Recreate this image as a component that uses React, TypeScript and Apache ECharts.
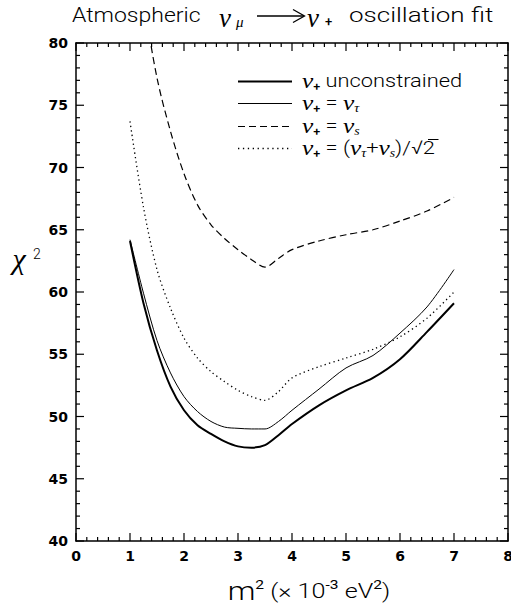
import React, { useEffect, useRef } from "react";
import * as echarts from "echarts";

// m^2 values (x 10^-3 eV^2)
const M2 = [1.0, 1.25, 1.5, 1.75, 2.0, 2.25, 2.5, 2.75, 3.0, 3.25, 3.5, 3.75, 4.0, 4.5, 5.0, 5.5, 6.0, 6.5, 7.0];
// chi^2 curves
const CHI2_UNCONSTRAINED = [64.1, 59.1, 55.3, 52.4, 50.5, 49.3, 48.6, 48.0, 47.6, 47.5, 47.7, 48.5, 49.4, 50.9, 52.1, 53.1, 54.6, 56.8, 59.1];
const CHI2_TAU = [64.2, 59.9, 56.1, 53.5, 51.6, 50.4, 49.6, 49.15, 49.05, 49.0, 49.0, 49.6, 50.5, 52.2, 53.9, 54.9, 56.7, 58.8, 61.8];
const CHI2_STERILE = [92.0, 83.6, 77.2, 72.9, 69.5, 67.0, 65.4, 64.3, 63.4, 62.6, 62.0, 62.7, 63.4, 64.1, 64.6, 65.0, 65.7, 66.5, 67.6];
const CHI2_MIXED = [73.7, 66.8, 61.8, 58.7, 56.3, 54.7, 53.6, 52.8, 52.1, 51.6, 51.3, 52.0, 53.1, 54.0, 54.7, 55.4, 56.4, 57.9, 60.0];

const X_MIN = 0, X_MAX = 8, X_STEP = 1, X_MINOR = 5;
const Y_MIN = 40, Y_MAX = 80, Y_STEP = 5, Y_MINOR = 5;

const FF = "Roboto";
const GF = "Liberation Serif";

const W = 511, H = 605;

function T(x: number, y: number, text: string, o: any = {}) {
  return {
    type: "text",
    x,
    y,
    scaleX: o.sx ?? 1,
    silent: true,
    style: {
      text,
      fill: "#000",
      fontSize: o.fs ?? 19,
      fontFamily: o.ff ?? FF,
      fontStyle: o.it ? "italic" : "normal",
      fontWeight: o.fw ?? 300,
      align: o.align ?? "left",
      textAlign: o.align ?? "left",
      verticalAlign: "middle",
      textVerticalAlign: "middle",
      rich: o.rich,
    },
  };
}

const richLegend = {
  nu: { fontFamily: GF, fontStyle: "italic", fontSize: 22, fill: "#000" },
  sub: { fontFamily: GF, fontStyle: "italic", fontSize: 12, fill: "#000", verticalAlign: "bottom" },
  subp: { fontFamily: FF, fontWeight: 500, fontSize: 11, fill: "#000", verticalAlign: "bottom" },
};

// tick table: [x, y, isMajor, kind] kind 0 = tick on the x axes, 1 = tick on the y axes
function buildTicks(): number[][] {
  const out: number[][] = [];
  const nx = Math.round((X_MAX - X_MIN) / X_STEP) * X_MINOR;
  for (let i = 0; i <= nx; i++) out.push([X_MIN + (i * X_STEP) / X_MINOR, Y_MIN, i % X_MINOR === 0 ? 1 : 0, 0]);
  const ny = Math.round((Y_MAX - Y_MIN) / Y_STEP) * Y_MINOR;
  for (let i = 0; i <= ny; i++) out.push([X_MIN, Y_MIN + (i * Y_STEP) / Y_MINOR, i % Y_MINOR === 0 ? 1 : 0, 1]);
  return out;
}

export default function App() {
  const ref = useRef<HTMLDivElement>(null);
  useEffect(() => {
    const chart = echarts.init(ref.current!, null, { renderer: "svg" });
    const frameAxis = (extra: any): any => ({
      type: "value",
      axisLine: { show: true, onZero: false, lineStyle: { color: "#000", width: 1.5 } },
      axisTick: { show: false },
      minorTick: { show: false },
      splitLine: { show: false },
      minorSplitLine: { show: false },
      ...extra,
    });
    const labelStyle = {
      color: "#000",
      fontFamily: "DejaVu Sans",
      fontWeight: "bold",
      fontSize: 14,
    };
    const xr = { min: X_MIN, max: X_MAX, interval: X_STEP };
    const yr = { min: Y_MIN, max: Y_MAX, interval: Y_STEP };
    const mk = (vals: number[]) => M2.map((x, i) => [x, vals[i]]);
    const lineSeries = (name: string, vals: number[], lineStyle: any) => ({
      name,
      type: "line",
      data: mk(vals),
      showSymbol: false,
      symbol: "none",
      smooth: 0.3,
      clip: true,
      lineStyle: { color: "#000", ...lineStyle },
      xAxisIndex: 0,
      yAxisIndex: 0,
      z: 3,
    });

    // inward ticks drawn as thin filled rectangles through the axes' scales
    const tickSeries = {
      type: "custom",
      name: "ticks",
      xAxisIndex: 0,
      yAxisIndex: 0,
      silent: true,
      clip: false,
      z: 6,
      data: buildTicks(),
      renderItem: (_p: any, api: any) => {
        const v0 = api.value(0);
        const v1 = api.value(1);
        const len = api.value(2) ? 8 : 4;
        const kind = api.value(3);
        const st = { fill: "#000", stroke: null };
        const th = 1.2;
        if (kind === 0) {
          const b = api.coord([v0, Y_MIN]);
          const t = api.coord([v0, Y_MAX]);
          return {
            type: "group",
            children: [
              { type: "rect", shape: { x: b[0] - th / 2, y: b[1] - len, width: th, height: len }, style: st },
              { type: "rect", shape: { x: t[0] - th / 2, y: t[1], width: th, height: len }, style: st },
            ],
          };
        }
        const l = api.coord([X_MIN, v1]);
        const r = api.coord([X_MAX, v1]);
        return {
          type: "group",
          children: [
            { type: "rect", shape: { x: l[0], y: l[1] - th / 2, width: len, height: th }, style: st },
            { type: "rect", shape: { x: r[0] - len, y: r[1] - th / 2, width: len, height: th }, style: st },
          ],
        };
      },
    };

    const legendY = [81.5, 103.5, 126.5, 148.5];
    const option: any = {
      animation: false,
      backgroundColor: "#fff",
      grid: { left: 76, right: 3, top: 43, bottom: 64, containLabel: false, outerBoundsMode: "none" },
      xAxis: [
        frameAxis({ position: "bottom", ...xr, axisLabel: { show: true, margin: 8, ...labelStyle } }),
        frameAxis({ position: "top", ...xr, axisLabel: { show: false } }),
      ],
      yAxis: [
        frameAxis({ position: "left", ...yr, axisLabel: { show: true, margin: 8, ...labelStyle } }),
        frameAxis({ position: "right", ...yr, axisLabel: { show: false } }),
      ],
      series: [
        lineSeries("unconstrained", CHI2_UNCONSTRAINED, { width: 2 }),
        lineSeries("tau", CHI2_TAU, { width: 1 }),
        lineSeries("sterile", CHI2_STERILE, { width: 1.2, type: [7, 4] }),
        lineSeries("mixed", CHI2_MIXED, { width: 1.3, type: [1.3, 3.2] }),
        tickSeries,
      ],
      graphic: [
        // title
        T(72, 15, "Atmospheric", { fs: 20, sx: 1.15 }),
        T(219, 18, "ν", { fs: 27, it: true, ff: GF }),
        T(236, 22, "μ", { fs: 15, it: true, ff: GF }),
        { type: "line", silent: true, shape: { x1: 257, y1: 16, x2: 304, y2: 16 }, style: { stroke: "#000", lineWidth: 1.3 } },
        { type: "polyline", silent: true, shape: { points: [[293, 9.5], [304.5, 16], [293, 22.5]] }, style: { stroke: "#000", lineWidth: 1.3, fill: null } },
        T(307, 18, "ν", { fs: 27, it: true, ff: GF }),
        T(325, 21.5, "+", { fs: 13, fw: 500 }),
        T(349, 15, "oscillation fit", { fs: 20, sx: 1.3 }),
        // y axis title
        T(19, 258, "χ", { fs: 30, it: true, ff: GF, align: "center" }),
        T(33, 254, "2", { fs: 14 }),
        // x axis title
        T(309, 591, "{m|m}{sup|2} (× 10{sup|-3} eV{sup|2})", {
          fs: 21,
          sx: 1.2,
          align: "center",
          rich: {
            m: { fontFamily: FF, fontWeight: 300, fontSize: 26, fill: "#000" },
            sup: { fontFamily: FF, fontWeight: 400, fontSize: 13, fill: "#000", verticalAlign: "top" },
          },
        }),
        // legend
        { type: "line", silent: true, shape: { x1: 238, y1: legendY[0], x2: 292, y2: legendY[0] }, style: { stroke: "#000", lineWidth: 2 } },
        { type: "line", silent: true, shape: { x1: 238, y1: legendY[1], x2: 292, y2: legendY[1] }, style: { stroke: "#000", lineWidth: 1 } },
        { type: "line", silent: true, shape: { x1: 238, y1: legendY[2], x2: 292, y2: legendY[2] }, style: { stroke: "#000", lineWidth: 1.2, lineDash: [7, 4] } },
        { type: "line", silent: true, shape: { x1: 238, y1: legendY[3], x2: 292, y2: legendY[3] }, style: { stroke: "#000", lineWidth: 1.3, lineDash: [1.3, 3.6] } },
        T(302, legendY[0] - 1, "{nu|ν}{subp|+} unconstrained", { fs: 19, sx: 1.15, rich: richLegend }),
        T(302, legendY[1] - 1, "{nu|ν}{subp|+} = {nu|ν}{sub|τ}", { fs: 19, sx: 1.15, rich: richLegend }),
        T(302, legendY[2] - 1, "{nu|ν}{subp|+} = {nu|ν}{sub|s}", { fs: 19, sx: 1.15, rich: richLegend }),
        T(302, legendY[3] - 1, "{nu|ν}{subp|+} = ({nu|ν}{sub|τ}+{nu|ν}{sub|s})/√2", { fs: 19, sx: 1.15, rich: richLegend }),
        { type: "line", silent: true, shape: { x1: 428, y1: 139.5, x2: 438.5, y2: 139.5 }, style: { stroke: "#000", lineWidth: 1 } },
      ],
    };
    chart.setOption(option);
    return () => chart.dispose();
  }, []);
  return (
    <div
      ref={ref}
      style={{ position: "fixed", left: 0, top: 0, width: W, height: H, background: "#fff" }}
    />
  );
}
